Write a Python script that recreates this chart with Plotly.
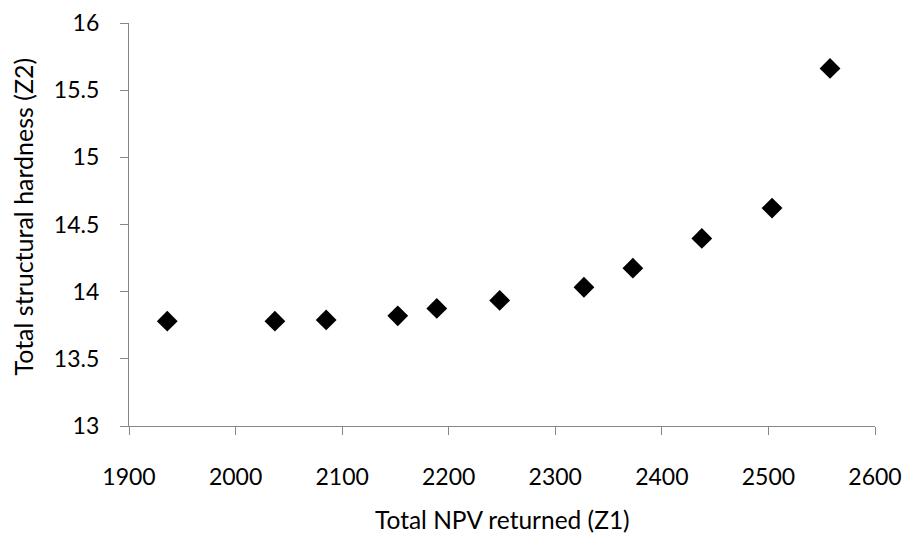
import plotly.graph_objects as go

# Data
npv_returned = [1935.9, 2036.9, 2085.0, 2152.2, 2188.8, 2247.8, 2326.9, 2372.8, 2437.5, 2503.4, 2557.8]
structural_hardness = [13.78, 13.78, 13.79, 13.82, 13.875, 13.935, 14.033, 14.175, 14.396, 14.622, 15.662]

x_title = "Total NPV returned (Z1)"
y_title = "Total structural hardness (Z2)"

FONT = "Lato"
AXIS_GREY = "#868686"

fig = go.Figure()
fig.add_trace(go.Scatter(
    x=npv_returned,
    y=structural_hardness,
    mode="markers",
    marker=dict(symbol="diamond", size=16, color="black", line=dict(width=0)),
    showlegend=False,
    hoverinfo="x+y",
))

fig.update_layout(
    width=907,
    height=534,
    margin=dict(l=129, r=32, t=23, b=108, autoexpand=False),
    paper_bgcolor="white",
    plot_bgcolor="white",
    font=dict(family=FONT, size=23, color="black"),
    xaxis=dict(
        range=[1900, 2600],
        tickmode="linear", tick0=1900, dtick=100,
        showgrid=False, zeroline=False, automargin=False,
        showline=True, linecolor=AXIS_GREY, linewidth=1.3,
        ticks="outside", ticklen=8, tickwidth=1.3, tickcolor=AXIS_GREY,
        tickfont=dict(family=FONT, size=23, color="black"),
        ticklabelstandoff=22,
        fixedrange=True,
    ),
    yaxis=dict(
        range=[13, 16],
        tickmode="linear", tick0=13, dtick=0.5,
        showgrid=False, zeroline=False, automargin=False,
        showline=True, linecolor=AXIS_GREY, linewidth=1.3,
        ticks="outside", ticklen=8, tickwidth=1.3, tickcolor=AXIS_GREY,
        tickfont=dict(family=FONT, size=23, color="black"),
        ticklabelstandoff=16,
        fixedrange=True,
    ),
    annotations=[
        dict(text=x_title, xref="paper", yref="paper", x=0.5, y=-0.233,
             xanchor="center", yanchor="middle", showarrow=False,
             font=dict(family=FONT, size=24.5, color="black")),
        dict(text=y_title, xref="paper", yref="paper", x=-0.142, y=0.52,
             xanchor="center", yanchor="middle", showarrow=False, textangle=-90,
             font=dict(family=FONT, size=25, color="black")),
    ],
)

fig.write_html(
    "out.html",
    config={"displayModeBar": False},
    post_script="document.body.style.margin='0';document.body.style.overflow='hidden';",
)
